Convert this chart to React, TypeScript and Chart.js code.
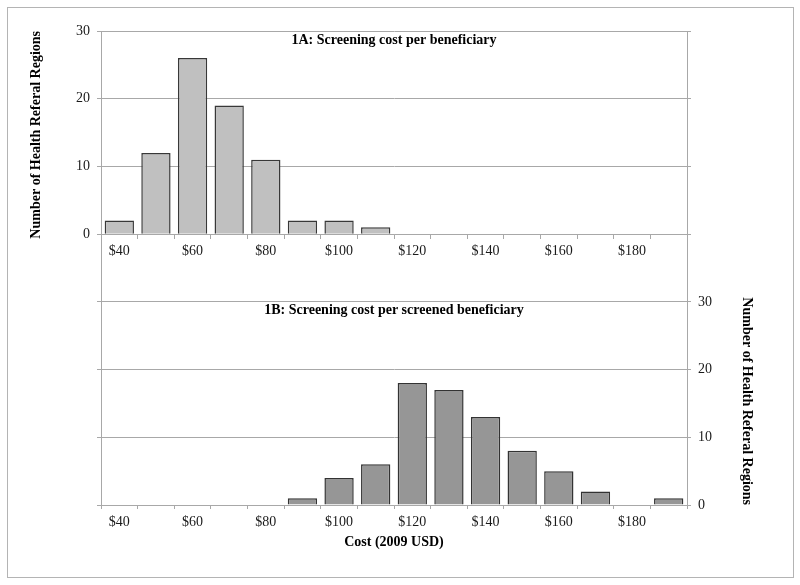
import React, { useEffect, useRef } from 'react';
import { Chart, registerables } from 'chart.js';

Chart.register(...registerables);

// ---- data ----
const binLabels = ['$40', '$50', '$60', '$70', '$80', '$90', '$100', '$110', '$120', '$130', '$140', '$150', '$160', '$170', '$180', '$190'];
const costPerBeneficiary = [2, 12, 26, 19, 11, 2, 2, 1, 0, 0, 0, 0, 0, 0, 0, 0];
const costPerScreened = [0, 0, 0, 0, 0, 1, 4, 6, 18, 17, 13, 8, 5, 2, 0, 1];
const countTickMax = 30;
const panelATitle = '1A: Screening cost per beneficiary';
const panelBTitle = '1B: Screening cost per screened beneficiary';
const yAxisTitle = 'Number of Health Referal Regions';
const xAxisTitle = 'Cost (2009 USD)';

const FONT = '"Liberation Serif", "Times New Roman", serif';
const GRID = '#a8a8a8';
const TEXT = '#1a1a1a';

const panelTitles = {
  id: 'panelTitles',
  afterDraw(chart: any) {
    const { ctx, chartArea, scales } = chart;
    const cx = (chartArea.left + chartArea.right) / 2;
    ctx.save();
    ctx.font = `bold 14px ${FONT}`;
    ctx.fillStyle = '#000';
    ctx.textAlign = 'center';
    ctx.textBaseline = 'alphabetic';
    ctx.fillText(panelATitle, cx, scales.y.getPixelForValue(countTickMax) + 12.5);
    ctx.fillText(panelBTitle, cx, scales.y2.getPixelForValue(countTickMax) + 12);
    ctx.restore();
  },
};

export default function App() {
  const ref = useRef<HTMLCanvasElement | null>(null);

  useEffect(() => {
    if (!ref.current) return;
    const tickFont = { family: FONT, size: 14 };
    const titleFont = { family: FONT, size: 14, weight: 'bold' as const };
    const chart = new Chart(ref.current, {
      type: 'bar',
      data: {
        labels: binLabels,
        datasets: [
          {
            label: 'per beneficiary',
            data: costPerBeneficiary,
            xAxisID: 'x',
            yAxisID: 'y',
            backgroundColor: '#c0c0c0',
            borderColor: '#383838',
            borderWidth: 1.5,
            grouped: false,
            categoryPercentage: 1,
            barPercentage: 0.8,
          },
          {
            label: 'per screened beneficiary',
            data: costPerScreened,
            xAxisID: 'x2',
            yAxisID: 'y2',
            backgroundColor: '#969696',
            borderColor: '#333333',
            borderWidth: 1.5,
            grouped: false,
            categoryPercentage: 1,
            barPercentage: 0.8,
          },
        ],
      },
      options: {
        responsive: false,
        animation: false,
        layout: { padding: { top: 31, left: 0, right: 0, bottom: 0 } },
        plugins: {
          legend: { display: false },
          tooltip: { enabled: false },
          title: { display: false },
        },
        scales: {
          x: {
            type: 'category',
            position: { y: 0 } as any,
            offset: true,
            grid: { offset: true, drawOnChartArea: false, drawTicks: true, tickLength: 4, color: GRID },
            border: { display: true, color: GRID, width: 1 },
            ticks: {
              autoSkip: false,
              maxRotation: 0,
              minRotation: 0,
              padding: 5,
              color: TEXT,
              font: tickFont,
              callback: (_v: any, i: number) => (i % 2 === 0 ? binLabels[i] : ''),
            },
          },
          x2: {
            type: 'category',
            axis: 'x',
            position: 'bottom',
            offset: true,
            grid: { offset: true, drawOnChartArea: false, drawTicks: true, tickLength: 4, color: GRID },
            border: { display: true, color: GRID, width: 1 },
            ticks: {
              autoSkip: false,
              maxRotation: 0,
              minRotation: 0,
              padding: 5,
              color: TEXT,
              font: tickFont,
              callback: (_v: any, i: number) => (i % 2 === 0 ? binLabels[i] : ''),
            },
            title: {
              display: true,
              text: xAxisTitle,
              color: '#000',
              font: titleFont,
              padding: { top: 0, bottom: 34.6 },
            },
            afterFit: (s: any) => {
              s.height = 80;
            },
          },
          y: {
            type: 'linear',
            position: 'left',
            min: -40,
            max: 30,
            grid: { color: GRID, tickLength: 4, lineWidth: 1 },
            border: { display: true, color: GRID, width: 1 },
            ticks: {
              stepSize: 10,
              padding: 7,
              color: TEXT,
              font: tickFont,
              callback: (v: any) => (Number(v) >= 0 ? String(v) : ''),
            },
            title: {
              display: true,
              text: yAxisTitle,
              align: 'end',
              color: '#000',
              font: titleFont,
              padding: { top: 28, bottom: 0 },
            },
            afterFit: (s: any) => {
              s.width = 101;
            },
          },
          y2: {
            type: 'linear',
            position: 'right',
            min: 0,
            max: 70,
            grid: { drawOnChartArea: false, color: GRID, tickLength: 4 },
            border: { display: true, color: GRID, width: 1 },
            ticks: {
              stepSize: 10,
              padding: 7,
              color: TEXT,
              font: tickFont,
              callback: (v: any) => (Number(v) <= countTickMax ? String(v) : ''),
            },
            title: {
              display: true,
              text: yAxisTitle,
              align: 'start',
              color: '#000',
              font: titleFont,
              padding: { top: 44.6, bottom: 0 },
            },
            afterFit: (s: any) => {
              s.width = 113;
            },
          },
        } as any,
      },
      plugins: [panelTitles],
    });
    return () => chart.destroy();
  }, []);

  return (
    <div style={{ position: 'fixed', left: 0, top: 0, width: 800, height: 585, background: '#fff' }}>
      <canvas ref={ref} width={800} height={585} style={{ position: 'absolute', left: 0, top: 0 }} />
      <div
        style={{
          position: 'absolute',
          left: 7,
          top: 7,
          width: 787,
          height: 571,
          boxSizing: 'border-box',
          border: '1px solid #b4b4b4',
          pointerEvents: 'none',
        }}
      />
    </div>
  );
}
